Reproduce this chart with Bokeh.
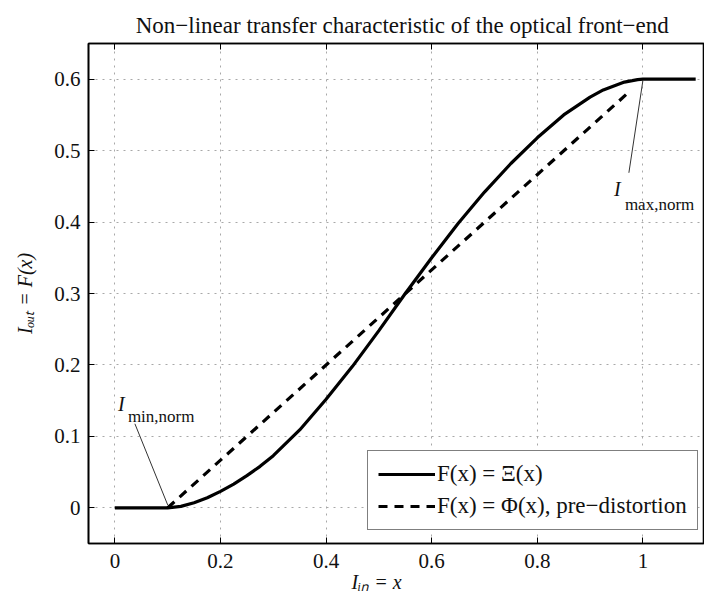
import math
from bokeh.plotting import figure
from bokeh.models import Range1d, FixedTicker, LinearAxis, Legend, LegendItem, Label
from bokeh.embed import file_html
from bokeh.resources import INLINE

# ---------------- data ----------------
title_text = "Non\u2212linear transfer characteristic of the optical front\u2212end"
x_axis_label = "I\u1d62\u2099 = x"
y_axis_label = "I\u2092\u1d64\u209c = F(x)"

x_ticks = [0, 0.2, 0.4, 0.6, 0.8, 1.0]
x_tick_labels = ["0", "0.2", "0.4", "0.6", "0.8", "1"]
y_ticks = [0, 0.1, 0.2, 0.3, 0.4, 0.5, 0.6]
y_tick_labels = ["0", "0.1", "0.2", "0.3", "0.4", "0.5", "0.6"]

# F(x) = Xi(x)  (solid)
xi_x = [0.0, 0.1, 0.125, 0.15, 0.175, 0.2, 0.225, 0.25, 0.275, 0.3, 0.35, 0.4, 0.45,
        0.5, 0.55, 0.6, 0.65, 0.7, 0.75, 0.8, 0.85, 0.9, 0.925, 0.95, 0.965, 0.98,
        0.99, 1.0, 1.1]
xi_y = [0.0, 0.0, 0.002, 0.007, 0.014, 0.023, 0.033, 0.045, 0.058, 0.073, 0.109, 0.152,
        0.198, 0.248, 0.300, 0.350, 0.398, 0.442, 0.482, 0.518, 0.550, 0.575, 0.585,
        0.592, 0.596, 0.598, 0.5995, 0.6, 0.6]

# F(x) = Phi(x), pre-distortion (dashed)
phi_x = [0.1, 0.975]
phi_y = [0.0, 0.583]

legend_labels = ["F(x) = \u039e(x)", "F(x) = \u03a6(x), pre\u2212distortion"]

# I_min,norm and I_max,norm points
kink_x = [0.1, 1.0]
kink_y = [0.0, 0.6]

FONT = "Liberation Serif"


def dx(px):
    return (px - 115) / 528.0


def dy(py):
    return (507 - py) / 714.3


p = figure(width=704, height=600,
           x_range=Range1d(-0.05, 1.1167), y_range=Range1d(-0.05, 0.65),
           output_backend="svg", toolbar_location=None,
           min_border_left=88, min_border_right=0,
           min_border_top=43, min_border_bottom=57)

p.outline_line_color = "black"
p.outline_line_width = 1.6
p.background_fill_color = "white"
p.border_fill_color = "white"

# title
p.title.text = "\u2002" + title_text
p.title.text_font = FONT
p.title.text_font_size = "23px"
p.title.text_font_style = "normal"
p.title.text_color = "#111111"
p.title.align = "center"
p.title.standoff = 12

# axes
for ax, ticks, labels in ((p.xaxis[0], x_ticks, x_tick_labels), (p.yaxis[0], y_ticks, y_tick_labels)):
    ax.ticker = FixedTicker(ticks=ticks)
    ax.major_label_overrides = {t: l for t, l in zip(ticks, labels)}
    ax.major_tick_in = 6
    ax.major_tick_out = 0
    ax.minor_tick_in = 0
    ax.minor_tick_out = 0
    ax.axis_line_color = "black"
    ax.axis_line_width = 1.6
    ax.major_tick_line_color = "black"
    ax.major_label_text_font = FONT
    ax.major_label_text_font_size = "21px"
    ax.major_label_text_color = "#111111"
    ax.axis_label_text_font = FONT
    ax.axis_label_text_font_size = "20px"
    ax.axis_label_text_font_style = "italic"
    ax.axis_label_text_color = "#111111"
p.xaxis[0].major_label_standoff = 10
p.yaxis[0].major_label_standoff = 8
p.xaxis[0].axis_label = x_axis_label + "\u2003\u2003"
p.xaxis[0].axis_label_standoff = 0
p.yaxis[0].axis_label = y_axis_label
p.yaxis[0].axis_label_standoff = 15

top = LinearAxis(ticker=FixedTicker(ticks=x_ticks),
                 major_label_overrides={t: "" for t in x_ticks},
                 major_label_text_font_size="1px",
                 major_tick_in=6, major_tick_out=0, minor_tick_in=0, minor_tick_out=0,
                 axis_line_color="black", axis_line_width=1.6, major_label_standoff=0)
p.add_layout(top, "above")

# grid
p.xgrid.ticker = FixedTicker(ticks=x_ticks)
p.ygrid.ticker = FixedTicker(ticks=y_ticks)
for g in (p.xgrid[0], p.ygrid[0]):
    g.grid_line_color = "#a8a8a8"
    g.grid_line_dash = "2 5"
    g.grid_line_width = 1

# curves
r1 = p.line(xi_x, xi_y, line_color="black", line_width=3.2)
r2 = p.line(phi_x, phi_y, line_color="black", line_width=3.2, line_dash="9 7")

# pointer lines
p.segment(x0=[dx(135), dx(629)], y0=[dy(423), dy(172)],
          x1=kink_x, y1=[kink_y[0] + 0.004, kink_y[1] - 0.002],
          line_color="#333333", line_width=1)


def lab(text, px, py, size, italic=False):
    p.add_layout(Label(x=dx(px), y=dy(py), text=text, text_font=FONT,
                       text_font_size=size, text_font_style="italic" if italic else "normal",
                       text_color="#111111", text_align="left", text_baseline="alphabetic"))


lab("I", 118, 403, "20px", italic=True)
lab("min,norm", 128, 416, "17px")
lab("I", 614, 188, "20px", italic=True)
lab("max,norm", 625, 204, "17px")

# legend
legend = Legend(items=[LegendItem(label=legend_labels[0], renderers=[r1]),
                       LegendItem(label=legend_labels[1], renderers=[r2])],
                location=(279, 13), label_text_font=FONT, label_text_font_size="23px",
                label_text_color="#111111",
                glyph_width=57, glyph_height=24, label_height=24, spacing=6,
                padding=10, label_standoff=2, margin=0,
                border_line_color="black", border_line_width=1,
                background_fill_color="white", background_fill_alpha=1.0)
p.add_layout(legend)

open("out.html", "w").write(file_html(p, INLINE))
